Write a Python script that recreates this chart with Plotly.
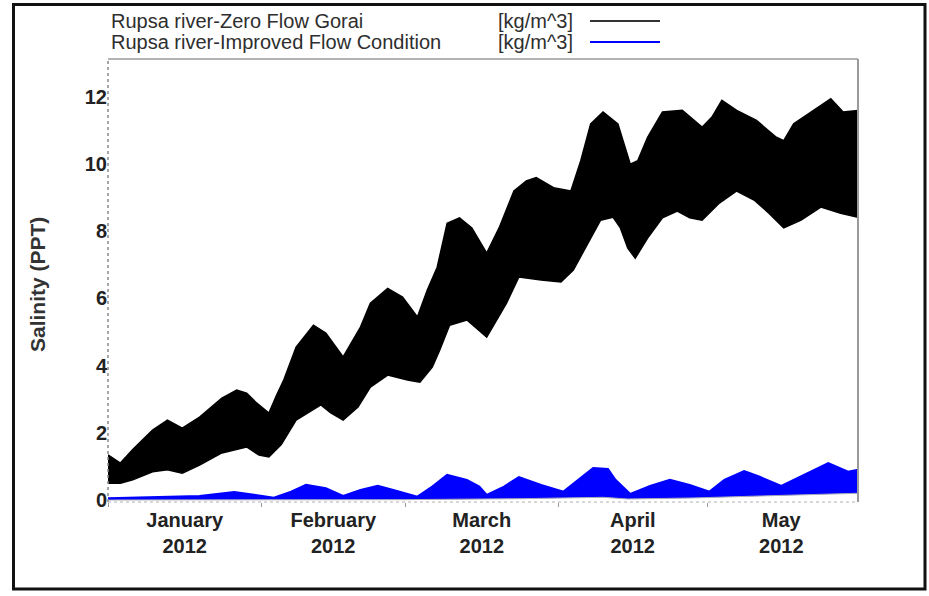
import plotly.graph_objects as go

# ---- Rupsa river salinity, zero Gorai flow (tidal band: upper / lower envelope) ----
zero_upper_dates = [
    "2012-01-01 00:00", "2012-01-03 12:00", "2012-01-06 00:00", "2012-01-10 00:00",
    "2012-01-13 00:00", "2012-01-16 00:00", "2012-01-19 12:00", "2012-01-21 12:00",
    "2012-01-24 00:00", "2012-01-27 00:00", "2012-01-29 00:00", "2012-01-31 00:00",
    "2012-02-02 12:00", "2012-02-04 00:00", "2012-02-05 12:00", "2012-02-08 00:00",
    "2012-02-11 12:00", "2012-02-14 00:00", "2012-02-17 12:00", "2012-02-21 00:00",
    "2012-02-23 00:00", "2012-02-26 12:00", "2012-02-29 12:00", "2012-03-03 12:00",
    "2012-03-05 12:00", "2012-03-07 12:00", "2012-03-09 12:00", "2012-03-12 00:00",
    "2012-03-14 12:00", "2012-03-17 12:00", "2012-03-20 00:00", "2012-03-23 00:00",
    "2012-03-25 12:00", "2012-03-27 12:00", "2012-03-31 00:00", "2012-04-03 12:00",
    "2012-04-05 12:00", "2012-04-07 12:00", "2012-04-10 00:00", "2012-04-13 00:00",
    "2012-04-14 00:00", "2012-04-15 12:00", "2012-04-17 00:00", "2012-04-19 00:00",
    "2012-04-22 00:00", "2012-04-26 00:00", "2012-04-30 00:00", "2012-05-02 00:00",
    "2012-05-04 00:00", "2012-05-07 00:00", "2012-05-11 00:00", "2012-05-15 00:00",
    "2012-05-16 12:00", "2012-05-18 12:00", "2012-05-22 00:00", "2012-05-26 00:00",
    "2012-05-28 12:00", "2012-05-31 12:00",
]
zero_upper = [
    1.34, 1.10, 1.50, 2.08, 2.38, 2.14, 2.47, 2.73, 3.03, 3.27, 3.18, 2.89,
    2.59, 3.10, 3.57, 4.55, 5.20, 4.97, 4.26, 5.15, 5.86, 6.30, 6.04, 5.45,
    6.25, 6.93, 8.24, 8.40, 8.10, 7.35, 8.10, 9.20, 9.50, 9.60, 9.30, 9.20,
    10.10, 11.20, 11.55, 11.20, 10.70, 10.00, 10.10, 10.80, 11.55, 11.60, 11.10, 11.40,
    11.90, 11.60, 11.30, 10.80, 10.70, 11.20, 11.55, 11.95, 11.55, 11.60,
]

zero_lower_dates = [
    "2012-01-01 00:00", "2012-01-03 12:00", "2012-01-06 00:00", "2012-01-10 00:00",
    "2012-01-13 00:00", "2012-01-16 00:00", "2012-01-19 12:00", "2012-01-24 00:00",
    "2012-01-29 00:00", "2012-01-31 12:00", "2012-02-02 12:00", "2012-02-05 00:00",
    "2012-02-08 00:00", "2012-02-13 00:00", "2012-02-15 00:00", "2012-02-17 12:00",
    "2012-02-20 12:00", "2012-02-23 00:00", "2012-02-26 12:00", "2012-03-01 12:00",
    "2012-03-04 00:00", "2012-03-06 12:00", "2012-03-08 00:00", "2012-03-10 00:00",
    "2012-03-13 12:00", "2012-03-17 12:00", "2012-03-21 12:00", "2012-03-24 00:00",
    "2012-03-28 12:00", "2012-04-01 12:00", "2012-04-04 00:00", "2012-04-07 00:00",
    "2012-04-09 12:00", "2012-04-12 00:00", "2012-04-13 12:00", "2012-04-15 00:00",
    "2012-04-16 12:00", "2012-04-19 00:00", "2012-04-22 00:00", "2012-04-25 00:00",
    "2012-04-27 12:00", "2012-04-30 00:00", "2012-05-03 12:00", "2012-05-07 00:00",
    "2012-05-10 12:00", "2012-05-13 12:00", "2012-05-16 12:00", "2012-05-20 00:00",
    "2012-05-24 00:00", "2012-05-28 00:00", "2012-05-31 12:00",
]
zero_lower = [
    0.50, 0.50, 0.60, 0.84, 0.90, 0.80, 1.04, 1.40, 1.58, 1.34, 1.28, 1.65,
    2.38, 2.83, 2.59, 2.38, 2.77, 3.36, 3.72, 3.57, 3.51, 3.96, 4.46, 5.20,
    5.36, 4.85, 5.86, 6.64, 6.55, 6.49, 6.85, 7.65, 8.33, 8.42, 8.10, 7.50,
    7.20, 7.80, 8.40, 8.60, 8.40, 8.33, 8.84, 9.20, 8.93, 8.54, 8.10, 8.33,
    8.72, 8.54, 8.42,
]

# ---- Rupsa river salinity, improved flow condition ----
improved_upper_dates = [
    "2012-01-01 00:00", "2012-01-09 12:00", "2012-01-19 12:00", "2012-01-26 12:00",
    "2012-01-29 12:00", "2012-02-03 12:00", "2012-02-07 00:00", "2012-02-10 00:00",
    "2012-02-14 00:00", "2012-02-17 12:00", "2012-02-21 00:00", "2012-02-24 12:00",
    "2012-02-28 00:00", "2012-03-03 12:00", "2012-03-06 12:00", "2012-03-09 12:00",
    "2012-03-13 12:00", "2012-03-16 00:00", "2012-03-17 12:00", "2012-03-21 00:00",
    "2012-03-24 00:00", "2012-03-28 12:00", "2012-04-02 00:00", "2012-04-05 00:00",
    "2012-04-08 00:00", "2012-04-11 00:00", "2012-04-12 12:00", "2012-04-15 12:00",
    "2012-04-19 12:00", "2012-04-23 12:00", "2012-04-27 12:00", "2012-05-01 12:00",
    "2012-05-04 12:00", "2012-05-08 12:00", "2012-05-11 12:00", "2012-05-16 00:00",
    "2012-05-20 00:00", "2012-05-25 12:00", "2012-05-29 12:00", "2012-05-31 12:00",
]
improved_upper = [
    0.05, 0.08, 0.12, 0.24, 0.18, 0.07, 0.25, 0.45, 0.35, 0.12, 0.30, 0.42,
    0.28, 0.10, 0.40, 0.75, 0.60, 0.40, 0.15, 0.40, 0.68, 0.45, 0.25, 0.60,
    0.95, 0.92, 0.60, 0.18, 0.42, 0.60, 0.45, 0.25, 0.60, 0.86, 0.70, 0.42,
    0.70, 1.10, 0.84, 0.90,
]
improved_lower_dates = [
    "2012-01-01 00:00", "2012-03-01 00:00", "2012-03-25 00:00", "2012-04-10 00:00",
    "2012-04-15 00:00", "2012-04-28 00:00", "2012-05-12 00:00", "2012-05-24 00:00",
    "2012-05-31 12:00",
]
improved_lower = [0.00, 0.01, 0.04, 0.08, 0.03, 0.06, 0.12, 0.18, 0.20]

series_names = [
    "Rupsa river-Zero Flow Gorai",
    "Rupsa river-Improved Flow Condition",
]
unit_label = "[kg/m^3]"
y_title = "Salinity (PPT)"

# ---- layout geometry (pixels) ----
W, H = 929, 596
PL, PR, PT, PB = 108, 858, 59, 502   # plot area left/right/top/bottom
FONT = "Liberation Sans"


def px(x):
    return (x - PL) / (PR - PL)


def py(y):
    return (PB - y) / (PB - PT)


fig = go.Figure()

fig.add_trace(go.Scatter(
    x=zero_lower_dates, y=zero_lower, mode="lines",
    line=dict(color="#000000", width=1.5), showlegend=False, hoverinfo="skip",
))
fig.add_trace(go.Scatter(
    x=zero_upper_dates, y=zero_upper, mode="lines", fill="tonexty",
    fillcolor="#000000", line=dict(color="#000000", width=1.5),
    name=series_names[0], showlegend=False,
))
fig.add_trace(go.Scatter(
    x=improved_lower_dates, y=improved_lower, mode="lines",
    line=dict(color="#a8a8b8", width=1), showlegend=False, hoverinfo="skip",
))
fig.add_trace(go.Scatter(
    x=improved_upper_dates, y=improved_upper, mode="lines", fill="tonexty",
    fillcolor="#0000ff", line=dict(color="#0000ff", width=2),
    name=series_names[1], showlegend=False,
))

tick_font = dict(family=FONT, size=20, color="#222222", weight="bold")

fig.update_xaxes(
    type="date",
    range=["2012-01-01", "2012-05-31 12:00"],
    tick0="2012-01-01", dtick="M1",
    ticklabelmode="period", tickformat="%B<br>%Y",
    ticks="outside", ticklen=4, tickcolor="#999999", tickwidth=1,
    ticklabelstandoff=-4,
    showgrid=False, showline=False, zeroline=False,
    tickfont=tick_font,
)
fig.update_yaxes(
    range=[-0.06, 13.13], tick0=0, dtick=2,
    ticks="", showgrid=False, showline=False, zeroline=False,
    tickfont=tick_font,
)

shapes = [
    # plot frame
    dict(type="line", xref="paper", yref="paper", x0=0, x1=1, y0=1, y1=1,
         line=dict(color="#9a9a9a", width=1.5)),
    dict(type="line", xref="paper", yref="paper", x0=1, x1=1, y0=0, y1=1,
         line=dict(color="#9a9a9a", width=2)),
    dict(type="line", xref="paper", yref="paper", x0=0, x1=1, y0=0, y1=0,
         line=dict(color="#b0b0b0", width=1, dash="dot")),
    dict(type="line", xref="paper", yref="paper", x0=0, x1=0, y0=0, y1=1,
         line=dict(color="#8a8a8a", width=1.5, dash="dot")),
    # outer border around the whole figure
    dict(type="rect", xref="paper", yref="paper",
         x0=px(13.5), x1=px(925), y0=py(589), y1=py(4.5),
         line=dict(color="#111111", width=3)),
    # legend samples
    dict(type="line", xref="paper", yref="paper", x0=px(590), x1=px(660),
         y0=py(21), y1=py(21), line=dict(color="#333333", width=2)),
    dict(type="line", xref="paper", yref="paper", x0=px(590), x1=px(660),
         y0=py(42), y1=py(42), line=dict(color="#0000ff", width=2)),
]

legend_font = dict(family=FONT, size=20, color="#2e2e2e")
annotations = [
    dict(text=series_names[0], x=px(109), y=py(21), xref="paper", yref="paper",
         xanchor="left", yanchor="middle", showarrow=False, font=legend_font),
    dict(text=unit_label, x=px(496), y=py(21), xref="paper", yref="paper",
         xanchor="left", yanchor="middle", showarrow=False, font=legend_font),
    dict(text=series_names[1], x=px(109), y=py(42), xref="paper", yref="paper",
         xanchor="left", yanchor="middle", showarrow=False, font=legend_font),
    dict(text=unit_label, x=px(496), y=py(42), xref="paper", yref="paper",
         xanchor="left", yanchor="middle", showarrow=False, font=legend_font),
    dict(text=y_title, x=px(37), y=py(285), xref="paper", yref="paper",
         xanchor="center", yanchor="middle", textangle=-90, showarrow=False,
         font=dict(family=FONT, size=21, color="#333333", weight="bold")),
]

fig.update_layout(
    width=W, height=H, autosize=False,
    margin=dict(l=PL, r=W - PR, t=PT, b=H - PB, pad=0),
    paper_bgcolor="white", plot_bgcolor="white",
    shapes=shapes, annotations=annotations,
    showlegend=False,
)

fig.write_html("out.html")
